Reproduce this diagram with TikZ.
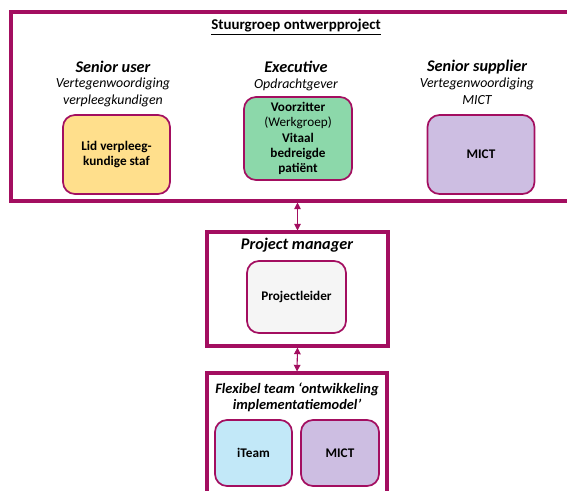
\documentclass[tikz,border=0pt]{standalone}
\usepackage{fontspec}
\setmainfont{Carlito}
\usetikzlibrary{arrows.meta}
\definecolor{plum}{RGB}{163,14,96}
\definecolor{cyellow}{RGB}{255,223,140}
\definecolor{cgreen}{RGB}{140,216,170}
\definecolor{cpurple}{RGB}{205,190,226}
\definecolor{cblue}{RGB}{194,232,248}
\definecolor{cgrey}{RGB}{245,245,245}
\begin{document}
\begin{tikzpicture}[x=0.75pt,y=-0.75pt,
  size/.style 2 args={minimum width=#1*0.75pt, minimum height=#2*0.75pt},
  frame/.style={draw=plum, line width=2.3pt, inner sep=0pt},
  card/.style={draw=plum, line width=1.3pt, rounded corners=9pt, inner sep=0pt,
    align=center, font=\fontsize{9.9}{11.4}\selectfont\bfseries},
  heading/.style={inner sep=0pt, font=\fontsize{12.2}{14}\selectfont\bfseries\itshape},
  sub/.style={inner sep=0pt, align=center, font=\fontsize{10.4}{12.4}\selectfont\itshape},
  link/.style={draw=plum, line width=0.8pt, {Triangle[length=5pt,width=5pt]}-{Triangle[length=5pt,width=5pt]}}
]
\useasboundingbox (0,0) rectangle (567,490);
\clip (0,0) rectangle (567,490);

% Steering group
\node[frame, size={590}{189}] (stuur) at (306,106.5) {};
\node[inner sep=0pt, font=\fontsize{11.2}{13}\selectfont\bfseries] (title) at (296,27) {\underline{Stuurgroep ontwerpproject}};

\node[heading] (huser) at (113,67) {Senior user};
\node[sub, anchor=north] (suser) at (113,78) {Vertegenwoordiging\\verpleegkundigen};
\node[card, fill=cyellow, size={107}{79}] (lid) at (116.5,154.5) {Lid verpleeg-\\kundige staf};

\node[heading] (hexec) at (296,67) {Executive};
\node[sub, anchor=north] (sexec) at (296,79) {Opdrachtgever};
\node[card, fill=cgreen, size={108}{83}, font=\fontsize{9.9}{11.5}\selectfont\bfseries] (voorz) at (298,138.5)
  {Voorzitter\\{\mdseries(Werkgroep)}\\Vitaal\\bedreigde\\patiënt};

\node[heading] (hsupp) at (477,67) {Senior supplier};
\node[sub, anchor=north] (ssupp) at (477,78) {Vertegenwoordiging\\MICT};
\node[card, fill=cpurple, size={107}{79}] (mict1) at (481,154.5) {MICT};

% Project manager
\node[frame, size={181}{114}] (pm) at (297.5,289) {};
\node[heading] (hpm) at (297,245) {Project manager};
\node[card, fill=cgrey, size={99}{72}] (leider) at (296.5,297) {Projectleider};

% Flexible team
\node[frame, size={180}{140}] (flex) at (297,443) {};
\node[heading, align=center, font=\fontsize{10.8}{11.4}\selectfont\bfseries\itshape, anchor=north] (hflex) at (297,383)
  {Flexibel team ‘ontwikkeling\\implementatiemodel’};
\node[card, fill=cblue, size={77}{66}] (iteam) at (253.5,453) {iTeam};
\node[card, fill=cpurple, size={78}{66}] (mict2) at (340,453) {MICT};

% Links between the levels
\draw[link] (pm.north |- stuur.south) -- (pm.north);
\draw[link] (pm.south) -- (flex.north);
\end{tikzpicture}
\end{document}
